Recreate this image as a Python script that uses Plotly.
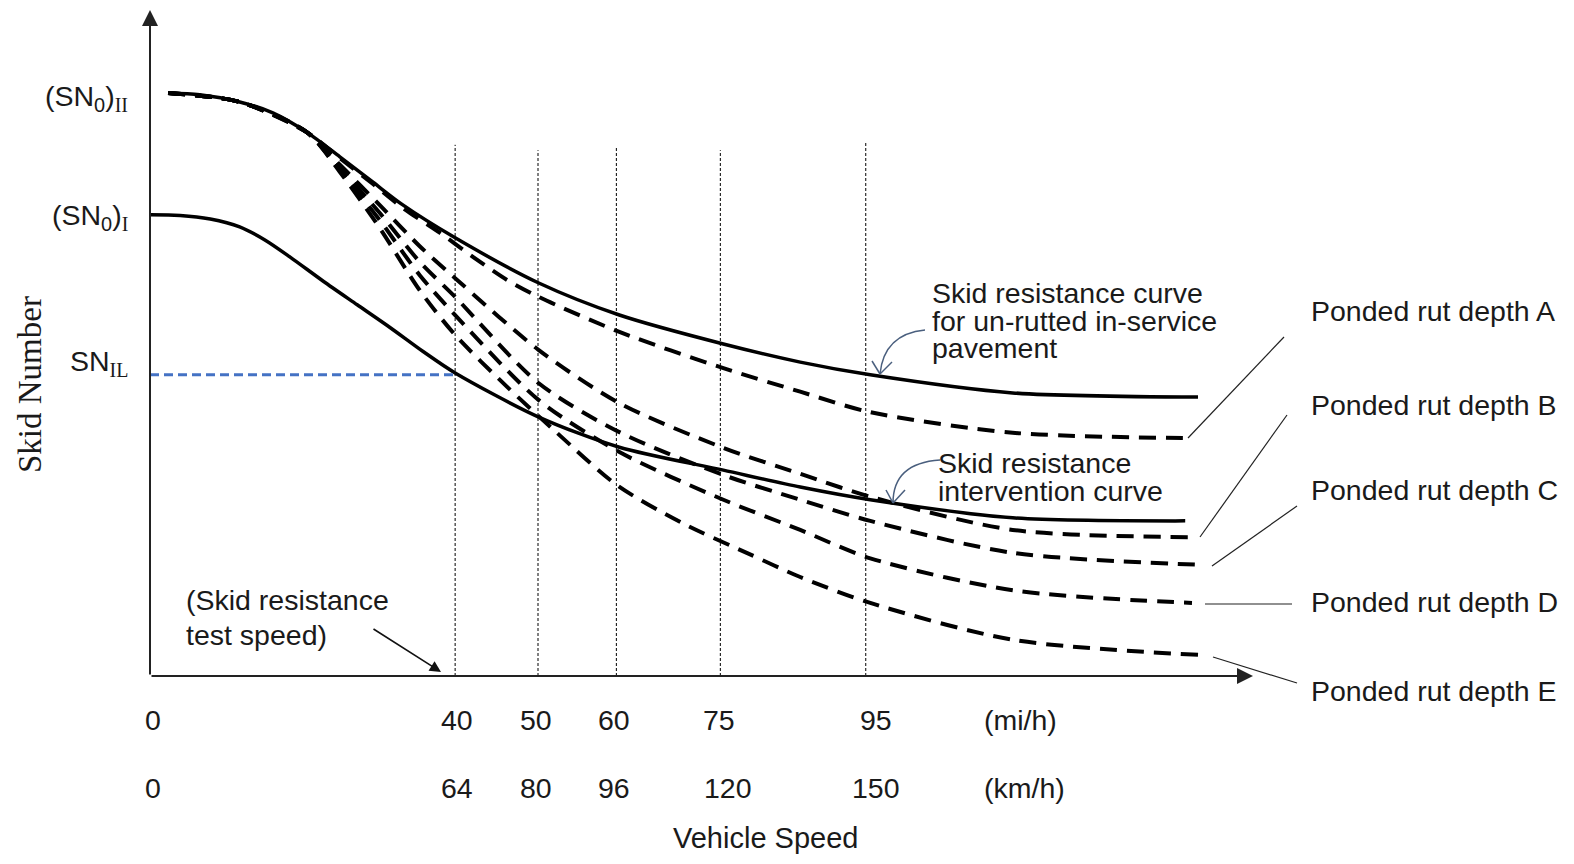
import plotly.graph_objects as go

# ---------------- data (schematic units) ----------------
# x: vehicle speed (schematic scale, mi/h-like), y: skid number (schematic scale)
upper_x = [2.4, 6.6, 11.9, 16.3, 20.8, 25.2, 29.6, 33.6, 40.5, 51.6, 62.3, 76.1, 86.3, 95.6, 114.5, 139.1]
upper_y = [96.6, 96.3, 95.1, 93.3, 90.1, 86.0, 81.8, 78.0, 72.6, 65.1, 59.8, 55.0, 52.0, 49.9, 46.9, 46.2]

interv_x = [0, 4.0, 8.0, 11.9, 15.3, 18.6, 23.0, 27.5, 31.9, 36.2, 40.5, 51.6, 62.3, 76.1, 86.3, 95.6, 114.5, 137.4]
interv_y = [76.4, 76.3, 75.7, 74.4, 72.2, 69.4, 65.4, 61.5, 57.7, 53.8, 50.2, 42.9, 37.9, 34.1, 31.3, 29.2, 26.2, 25.7]

rut_a_x = [2.4, 11.9, 20.8, 25.2, 29.6, 33.6, 38.5, 42.9, 47.4, 51.6, 62.3, 76.1, 86.3, 95.6, 114.5, 138.4]
rut_a_y = [96.6, 95.1, 90.1, 85.8, 81.5, 77.5, 73.4, 69.4, 65.6, 62.8, 57.0, 51.0, 47.1, 43.7, 40.3, 39.4]

rut_b_x = [2.4, 11.9, 20.8, 25.2, 30.5, 35.8, 40.5, 51.6, 62.3, 76.1, 86.3, 95.6, 114.5, 138.0]
rut_b_y = [96.6, 95.1, 90.1, 84.7, 78.0, 71.2, 65.9, 54.0, 45.2, 37.8, 33.5, 29.7, 24.2, 23.0]

rut_c_x = [2.4, 11.9, 20.8, 25.2, 30.5, 35.8, 40.5, 51.6, 62.3, 76.1, 86.3, 95.6, 114.5, 139.8]
rut_c_y = [96.6, 95.1, 90.1, 84.2, 76.7, 68.6, 62.8, 48.5, 40.4, 33.3, 29.2, 25.7, 20.4, 18.4]

rut_d_x = [2.4, 11.9, 20.8, 25.2, 30.5, 35.8, 40.5, 51.6, 62.3, 76.1, 86.3, 95.6, 114.5, 138.3]
rut_d_y = [96.6, 95.1, 90.1, 83.8, 75.5, 66.4, 59.8, 45.7, 37.1, 29.2, 24.2, 19.5, 14.2, 12.1]

rut_e_x = [2.4, 11.9, 20.8, 25.2, 30.5, 35.8, 40.5, 47.4, 54.0, 62.0, 70.7, 79.2, 86.3, 95.6, 114.5, 139.1]
rut_e_y = [96.6, 95.1, 90.1, 83.5, 74.2, 63.9, 56.5, 47.9, 40.3, 31.6, 25.3, 20.4, 16.4, 12.1, 6.0, 3.5]

rut_labels = ["Ponded rut depth A", "Ponded rut depth B", "Ponded rut depth C",
              "Ponded rut depth D", "Ponded rut depth E"]

speed_line_pos = [40.5, 51.5, 61.9, 75.7, 95.0]
speed_line_top = [88.0, 87.1, 87.5, 87.1, 88.3]
mph_labels = ["0", "40", "50", "60", "75", "95"]
kmh_labels = ["0", "64", "80", "96", "120", "150"]

sn0_ii = 96.6
sn0_i = 76.4
sn_il = 49.9
test_speed = 40.5

# ---------------- layout geometry ----------------
PAGE_OFF = 8                      # default body margin of the html page
W, H = 1574 - PAGE_OFF, 864 - PAGE_OFF
ML, MT = 150 - PAGE_OFF, 12 - PAGE_OFF
PW, PH = 1100, 664
MR, MB = W - ML - PW, H - MT - PH
XMAX, YMAX = 146, 110
sx = PW / XMAX
sy = PH / YMAX


def X(px):   # picture pixel -> x data
    return (px - 150) / sx


def Y(py):   # picture pixel -> y data
    return (676 - py) / sy


def PXp(px):  # picture pixel -> paper x
    return (px - 150) / PW


def PYp(py):  # picture pixel -> paper y
    return (676 - py) / PH


FONT = "Liberation Sans, Arial, sans-serif"
SERIF = "Liberation Serif, Times New Roman, serif"
TXT = "#1a1a1a"
FS = 28.5

fig = go.Figure()

dash_style = "17px,10px"
for xs, ys in [(rut_a_x, rut_a_y), (rut_b_x, rut_b_y), (rut_c_x, rut_c_y),
               (rut_d_x, rut_d_y), (rut_e_x, rut_e_y)]:
    fig.add_trace(go.Scatter(x=xs, y=ys, mode="lines",
                             line=dict(color="black", width=4, dash=dash_style, shape="spline", smoothing=0.8),
                             hoverinfo="skip", showlegend=False))

for xs, ys in [(upper_x, upper_y), (interv_x, interv_y)]:
    fig.add_trace(go.Scatter(x=xs, y=ys, mode="lines",
                             line=dict(color="black", width=3.5, shape="spline", smoothing=0.8),
                             hoverinfo="skip", showlegend=False))

# SN_IL level line
fig.add_trace(go.Scatter(x=[0, test_speed], y=[sn_il, sn_il], mode="lines",
                         line=dict(color="#4472C4", width=3, dash="9px,5px"),
                         hoverinfo="skip", showlegend=False))

shapes = []
# vertical dotted speed lines
for xp, top in zip(speed_line_pos, speed_line_top):
    shapes.append(dict(type="line", xref="x", yref="y", x0=xp, x1=xp, y0=0, y1=top,
                       line=dict(color="black", width=1, dash="3px,2px"), layer="below"))

# curved call-out arrows (blue-grey)
ac = "#4a5f7e"


def curve_arrow(p0, c, p1, arm1, arm2):
    path = f"M {X(p0[0])},{Y(p0[1])} Q {X(c[0])},{Y(c[1])} {X(p1[0])},{Y(p1[1])}"
    shapes.append(dict(type="path", xref="x", yref="y", path=path, line=dict(color=ac, width=1.5)))
    for a in (arm1, arm2):
        shapes.append(dict(type="line", xref="x", yref="y", x0=X(a[0]), y0=Y(a[1]),
                           x1=X(p1[0]), y1=Y(p1[1]), line=dict(color=ac, width=1.5)))


curve_arrow((925, 330), (884, 334), (880, 374), (872, 361), (892, 362))
curve_arrow((940, 460), (893, 463), (893, 503), (886, 490), (905, 490))

# leader lines to rut labels (outside plot area -> paper coords)
leaders = [((1188, 438), (1284, 337)),
           ((1200, 537), (1287, 415)),
           ((1212, 566), (1297, 506)),
           ((1205, 604), (1292, 604)),
           ((1213, 657), (1297, 683))]
for (a, b) in leaders:
    shapes.append(dict(type="line", xref="paper", yref="paper", x0=PXp(a[0]), y0=PYp(a[1]),
                       x1=PXp(b[0]), y1=PYp(b[1]), line=dict(color="#222", width=1.2)))

annotations = []
# axes with arrows
annotations.append(dict(x=X(1253), y=0, ax=0, ay=0, xref="x", yref="y", axref="x", ayref="y",
                        text="", showarrow=True, arrowhead=2, arrowsize=1.6, arrowwidth=2,
                        arrowcolor="#222", standoff=0))
annotations.append(dict(x=0, y=Y(10), ax=0, ay=0, xref="x", yref="y", axref="x", ayref="y",
                        text="", showarrow=True, arrowhead=2, arrowsize=1.6, arrowwidth=2,
                        arrowcolor="#222", standoff=0))
# test speed arrow
annotations.append(dict(x=X(441), y=Y(672), ax=X(372), ay=Y(628), xref="x", yref="y", axref="x", ayref="y",
                        text="", showarrow=True, arrowhead=2, arrowsize=1.4, arrowwidth=1.6,
                        arrowcolor="#111", standoff=0))


def txt(text, xp, yp, anchor="left", size=FS, family=FONT, **kw):
    annotations.append(dict(text=text, x=PXp(xp), y=PYp(yp), xref="paper", yref="paper", showarrow=False,
                            xanchor=anchor, yanchor="middle", font=dict(family=family, size=size, color=TXT), **kw))


def roman(s):
    return f"<span style='font-family:{SERIF}'>{s}</span>"


# y-axis labels
for lab, lvl, ys in [("(SN<sub>0</sub>)<sub>" + roman("II") + "</sub>", sn0_ii, -5),
                     ("(SN<sub>0</sub>)<sub>" + roman("I") + "</sub>", sn0_i, -2),
                     ("SN<sub>" + roman("IL") + "</sub>", sn_il, 12)]:
    annotations.append(dict(text=lab, x=0, y=lvl, xref="x", yref="y",
                            showarrow=False, xanchor="right", yanchor="middle", xshift=-20, yshift=ys,
                            font=dict(family=FONT, size=FS, color=TXT)))

# y title
txt("Skid Number", 30, 385, anchor="center", size=33, family=SERIF, textangle=-90)

# callout texts
for i, line in enumerate(["Skid resistance curve", "for un-rutted in-service", "pavement"]):
    txt(line, 930, 293 + 27.5 * i)
for i, line in enumerate(["Skid resistance", "intervention curve"]):
    txt(line, 936, 463 + 27.5 * i)
for i, line in enumerate(["(Skid resistance", "test speed)"]):
    txt(line, 184, 600 + 35 * i)

for lab, yp in zip(rut_labels, [311, 405, 490, 602, 691]):
    txt(lab, 1309, yp)

# x tick labels (two rows)
tick_pos = [0] + speed_line_pos
xshift = [3, 2, -2, -2, -1, 10]
kshift = [3, 2, -2, -2, 8, 10]
for p, m, k, s1, s2 in zip(tick_pos, mph_labels, kmh_labels, xshift, kshift):
    annotations.append(dict(text=m, x=p / XMAX, y=PYp(720), xref="paper", yref="paper", showarrow=False,
                            xanchor="center", yanchor="middle", xshift=s1,
                            font=dict(family=FONT, size=FS, color=TXT)))
    annotations.append(dict(text=k, x=p / XMAX, y=PYp(788), xref="paper", yref="paper", showarrow=False,
                            xanchor="center", yanchor="middle", xshift=s2,
                            font=dict(family=FONT, size=FS, color=TXT)))
txt("(mi/h)", 1020, 720, anchor="center")
txt("(km/h)", 1024, 788, anchor="center")
txt("Vehicle Speed", 765, 838, anchor="center", size=29)

fig.update_layout(
    width=W, height=H,
    margin=dict(l=ML, r=MR, t=MT, b=MB, pad=0),
    paper_bgcolor="white", plot_bgcolor="white",
    xaxis=dict(range=[0, XMAX], visible=False, fixedrange=True),
    yaxis=dict(range=[0, YMAX], visible=False, fixedrange=True),
    shapes=shapes, annotations=annotations, showlegend=False,
)

fig.write_html("out.html")
